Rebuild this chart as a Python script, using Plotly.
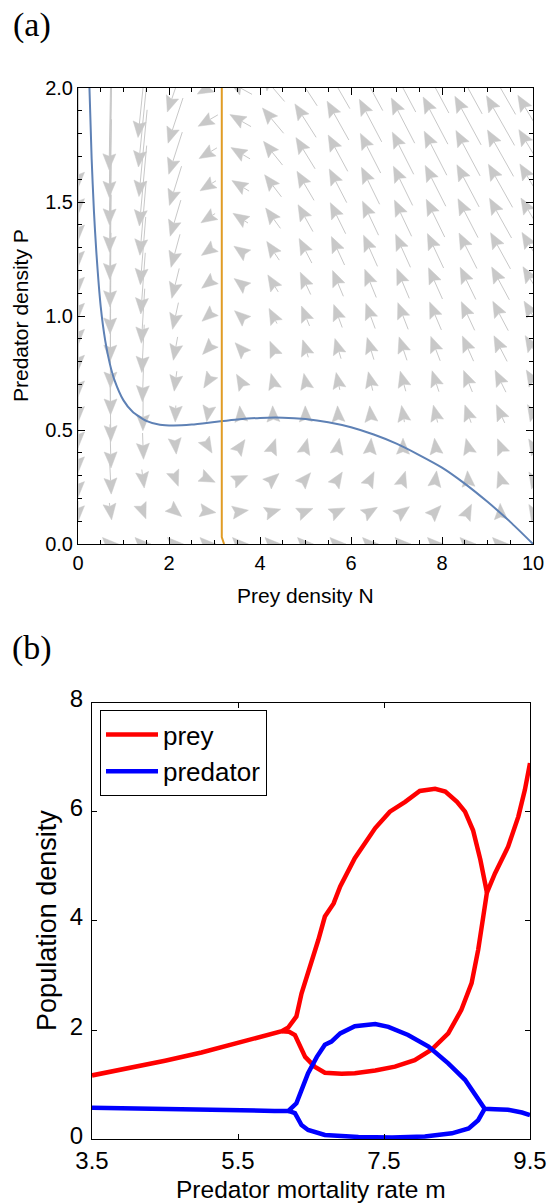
import math
import plotly.graph_objects as go

# ---------------- data: panel (a) ----------------
N_grid = [0.0, 0.714, 1.429, 2.143, 2.857, 3.571, 4.286, 5.0, 5.714, 6.429, 7.143, 7.857, 8.571, 9.286, 10.0]
P_grid = [0.0, 0.143, 0.286, 0.429, 0.571, 0.714, 0.857, 1.0, 1.143, 1.286, 1.429, 1.571, 1.714, 1.857, 2.0]

# dN/dt at each grid point (rows: P_grid, columns: N_grid)
dN_field = [
    [0, 0.13, 0.24, 0.34, 0.41, 0.46, 0.49, 0.50, 0.49, 0.46, 0.41, 0.34, 0.24, 0.13, 0],
    [0, 0.11, 0.18, 0.24, 0.30, 0.34, 0.36, 0.37, 0.35, 0.32, 0.27, 0.20, 0.11, -0.01, -0.14],
    [0, 0.08, 0.12, 0.15, 0.19, 0.22, 0.24, 0.24, 0.22, 0.19, 0.13, 0.06, -0.03, -0.15, -0.28],
    [0, 0.06, 0.05, 0.06, 0.08, 0.10, 0.11, 0.11, 0.09, 0.05, 0.00, -0.08, -0.17, -0.28, -0.42],
    [0, 0.04, -0.01, -0.03, -0.03, -0.02, -0.02, -0.02, -0.04, -0.08, -0.14, -0.21, -0.31, -0.42, -0.56],
    [0, 0.01, -0.08, -0.13, -0.14, -0.14, -0.14, -0.15, -0.18, -0.22, -0.28, -0.35, -0.45, -0.56, -0.70],
    [0, -0.01, -0.14, -0.22, -0.25, -0.26, -0.27, -0.28, -0.31, -0.35, -0.41, -0.49, -0.59, -0.70, -0.84],
    [0, -0.04, -0.20, -0.31, -0.36, -0.38, -0.39, -0.41, -0.44, -0.49, -0.55, -0.63, -0.72, -0.84, -0.98],
    [0, -0.06, -0.27, -0.40, -0.47, -0.50, -0.52, -0.54, -0.57, -0.62, -0.68, -0.76, -0.86, -0.98, -1.12],
    [0, -0.08, -0.33, -0.49, -0.58, -0.62, -0.64, -0.67, -0.71, -0.76, -0.82, -0.90, -1.00, -1.12, -1.25],
    [0, -0.11, -0.39, -0.59, -0.69, -0.74, -0.77, -0.80, -0.84, -0.89, -0.96, -1.04, -1.14, -1.26, -1.39],
    [0, -0.13, -0.46, -0.68, -0.79, -0.86, -0.89, -0.93, -0.97, -1.02, -1.09, -1.18, -1.28, -1.40, -1.53],
    [0, -0.16, -0.52, -0.77, -0.90, -0.97, -1.02, -1.06, -1.10, -1.16, -1.23, -1.31, -1.41, -1.53, -1.67],
    [0, -0.18, -0.59, -0.86, -1.01, -1.09, -1.15, -1.19, -1.24, -1.29, -1.36, -1.45, -1.55, -1.67, -1.81],
    [0, -0.20, -0.65, -0.95, -1.12, -1.21, -1.27, -1.32, -1.37, -1.43, -1.50, -1.59, -1.69, -1.81, -1.95],
]
# dP/dt at each grid point
dP_field = [
    [0] * 15,
    [-0.208, -0.164, -0.092, -0.040, -0.009, 0.010, 0.021, 0.029, 0.034, 0.038, 0.040, 0.042, 0.044, 0.045, 0.046],
    [-0.416, -0.329, -0.183, -0.080, -0.018, 0.019, 0.042, 0.057, 0.068, 0.075, 0.081, 0.085, 0.088, 0.090, 0.092],
    [-0.624, -0.493, -0.275, -0.120, -0.027, 0.029, 0.063, 0.086, 0.102, 0.113, 0.121, 0.127, 0.132, 0.136, 0.139],
    [-0.832, -0.657, -0.367, -0.160, -0.036, 0.038, 0.084, 0.115, 0.136, 0.150, 0.161, 0.170, 0.176, 0.181, 0.185],
    [-1.040, -0.821, -0.458, -0.200, -0.045, 0.048, 0.106, 0.144, 0.170, 0.188, 0.202, 0.212, 0.220, 0.226, 0.231],
    [-1.248, -0.986, -0.550, -0.240, -0.054, 0.057, 0.127, 0.172, 0.203, 0.226, 0.242, 0.254, 0.264, 0.271, 0.277],
    [-1.456, -1.150, -0.642, -0.280, -0.063, 0.067, 0.148, 0.201, 0.237, 0.263, 0.283, 0.297, 0.308, 0.317, 0.324],
    [-1.664, -1.314, -0.733, -0.320, -0.072, 0.076, 0.169, 0.230, 0.271, 0.301, 0.323, 0.339, 0.352, 0.362, 0.370],
    [-1.872, -1.479, -0.825, -0.360, -0.081, 0.086, 0.190, 0.258, 0.305, 0.339, 0.363, 0.381, 0.396, 0.407, 0.416],
    [-2.080, -1.643, -0.916, -0.400, -0.090, 0.095, 0.211, 0.287, 0.339, 0.376, 0.404, 0.424, 0.440, 0.452, 0.462],
    [-2.288, -1.807, -1.008, -0.440, -0.099, 0.105, 0.232, 0.316, 0.373, 0.414, 0.444, 0.466, 0.484, 0.498, 0.509],
    [-2.496, -1.971, -1.100, -0.479, -0.108, 0.114, 0.253, 0.344, 0.407, 0.451, 0.484, 0.509, 0.528, 0.543, 0.555],
    [-2.704, -2.136, -1.191, -0.519, -0.117, 0.124, 0.274, 0.373, 0.441, 0.489, 0.525, 0.551, 0.572, 0.588, 0.601],
    [-2.912, -2.300, -1.283, -0.559, -0.126, 0.133, 0.295, 0.402, 0.475, 0.527, 0.565, 0.593, 0.616, 0.633, 0.647],
]

# prey nullcline (blue curve)
null_N = [0.25, 0.30, 0.35, 0.40, 0.50, 0.60, 0.70, 0.80, 1.0, 1.2, 1.5, 1.8, 2.1, 2.5, 3.0, 3.5,
          4.0, 4.5, 5.0, 5.5, 6.0, 6.5, 7.0, 7.5, 8.0, 8.5, 9.0, 9.5, 10.0]
null_P = [2.01, 1.69, 1.46, 1.29, 1.04, 0.89, 0.79, 0.72, 0.63, 0.58, 0.54, 0.523, 0.52, 0.524, 0.535, 0.546,
          0.553, 0.554, 0.548, 0.534, 0.512, 0.48, 0.44, 0.39, 0.335, 0.265, 0.185, 0.097, 0.0]
# predator nullcline (orange line)
pred_null_N = [3.16, 3.16, 3.21]
pred_null_P = [2.0, 0.03, 0.0]

# ---------------- data: panel (b) ----------------
prey_m = [3.5, 4.0, 4.5, 5.0, 5.5, 5.8, 6.0, 6.1, 6.19, 6.30, 6.37, 6.46, 6.60, 6.69, 6.81, 6.90, 7.10,
          7.38, 7.58, 7.79, 7.99, 8.20, 8.34, 8.50, 8.61, 8.72, 8.82, 8.91, 9.02, 9.20, 9.34, 9.43, 9.50]
prey_v = [1.17, 1.30, 1.44, 1.59, 1.76, 1.87, 1.94, 1.98, 2.05, 2.25, 2.67, 3.04, 3.65, 4.08, 4.32, 4.63, 5.15,
          5.70, 6.00, 6.18, 6.38, 6.42, 6.37, 6.18, 6.00, 5.66, 5.12, 4.52, 4.87, 5.36, 5.91, 6.40, 6.89]
prey_low_m = [6.10, 6.20, 6.28, 6.35, 6.42, 6.55, 6.69, 6.92, 7.10, 7.38, 7.65, 7.92, 8.15, 8.38, 8.56,
              8.70, 8.79, 8.86, 8.91]
prey_low_v = [1.98, 1.97, 1.91, 1.70, 1.51, 1.33, 1.22, 1.20, 1.21, 1.26, 1.33, 1.45, 1.64, 1.94, 2.37,
              2.86, 3.47, 4.08, 4.52]
pred_m = [3.5, 4.5, 5.5, 6.0, 6.19, 6.30, 6.37, 6.46, 6.58, 6.69, 6.78, 6.90, 7.10, 7.38, 7.56, 7.83,
          8.11, 8.38, 8.61, 8.75, 8.88, 9.02, 9.20, 9.39, 9.50]
pred_v = [0.58, 0.55, 0.53, 0.52, 0.52, 0.66, 0.90, 1.21, 1.51, 1.73, 1.79, 1.94, 2.07, 2.11, 2.06, 1.91,
          1.70, 1.39, 1.09, 0.81, 0.56, 0.55, 0.54, 0.49, 0.445]
pred_low_m = [6.19, 6.28, 6.37, 6.46, 6.69, 7.15, 7.61, 8.06, 8.43, 8.66, 8.79, 8.88]
pred_low_v = [0.52, 0.48, 0.26, 0.17, 0.08, 0.04, 0.035, 0.05, 0.11, 0.20, 0.35, 0.56]

a_xticks = [0, 2, 4, 6, 8, 10]
a_yticks = [0, 0.5, 1.0, 1.5, 2.0]
a_yticklabels = ["0.0", "0.5", "1.0", "1.5", "2.0"]
b_xticks = [3.5, 5.5, 7.5, 9.5]
b_xticklabels = ["3.5", "5.5", "7.5", "9.5"]
b_yticks = [0, 2, 4, 6, 8]

# ---------------- layout geometry ----------------
W, H = 550, 1203
AX0, AX1, AY0, AY1 = 78, 533, 88, 544          # panel (a) plot box (px)
BX0, BX1, BY0, BY1 = 92, 530, 702.5, 1139.3    # panel (b) plot box (px)
a_xr, a_yr = [0, 10], [0, 2]
b_xr, b_yr = [3.5, 9.5], [0, 8]

GRAY = "#c8c8c8"
SANS = "Liberation Sans, Arial, sans-serif"
SERIF = "Liberation Serif, Times New Roman, serif"

# px per data unit in panel (a), from the axis ranges and box size
kx = (AX1 - AX0) / (a_xr[1] - a_xr[0])
ky = (AY1 - AY0) / (a_yr[1] - a_yr[0])

head_len, head_w, notch = 16.0, 6.5, 2.5
hx, hy, tx, ty = [], [], [], []
for j, p in enumerate(P_grid):
    for i, n in enumerate(N_grid):
        sx = dN_field[j][i] * kx
        sy = dP_field[j][i] * ky
        M = math.hypot(sx, sy)
        if M < 1e-9:
            continue
        ex, ey = sx / M, sy / M
        px_, py_ = -ey, ex
        L = 0.75 * M ** 0.86
        half = max(L, head_len) / 2.0
        tipx, tipy = ex * half, ey * half
        bx, by = tipx - ex * head_len, tipy - ey * head_len
        pts = [(tipx, tipy), (bx + px_ * head_w, by + py_ * head_w),
               (bx + ex * notch, by + ey * notch), (bx - px_ * head_w, by - py_ * head_w), (tipx, tipy)]
        for (ox, oy) in pts:
            hx.append(n + ox / kx)
            hy.append(p + oy / ky)
        hx.append(None); hy.append(None)
        if L > head_len:
            sxp, syp = -ex * half, -ey * half
            tx += [n + sxp / kx, n + (bx + ex * notch) / kx, None]
            ty += [p + syp / ky, p + (by + ey * notch) / ky, None]

fig = go.Figure()
fig.add_trace(go.Scatter(x=tx, y=ty, mode="lines", line=dict(color=GRAY, width=1),
                         hoverinfo="skip", showlegend=False, xaxis="x", yaxis="y"))
fig.add_trace(go.Scatter(x=hx, y=hy, mode="lines", fill="toself", fillcolor=GRAY,
                         line=dict(color=GRAY, width=0.5), hoverinfo="skip", showlegend=False,
                         xaxis="x", yaxis="y"))
fig.add_trace(go.Scatter(x=null_N, y=null_P, mode="lines", line=dict(color="#5e81b5", width=2, shape="spline", smoothing=0.6),
                         showlegend=False, xaxis="x", yaxis="y"))
fig.add_trace(go.Scatter(x=pred_null_N, y=pred_null_P, mode="lines", line=dict(color="#e19c24", width=2),
                         showlegend=False, xaxis="x", yaxis="y"))

# panel (b)
fig.add_trace(go.Scatter(x=prey_m, y=prey_v, mode="lines", name="prey", legendgroup="prey",
                         line=dict(color="#ff0000", width=4.5), xaxis="x2", yaxis="y2"))
fig.add_trace(go.Scatter(x=prey_low_m, y=prey_low_v, mode="lines", name="prey", legendgroup="prey",
                         showlegend=False, line=dict(color="#ff0000", width=4.5), xaxis="x2", yaxis="y2"))
fig.add_trace(go.Scatter(x=pred_m, y=pred_v, mode="lines", name="predator", legendgroup="pred",
                         line=dict(color="#0000ff", width=4.5), xaxis="x2", yaxis="y2"))
fig.add_trace(go.Scatter(x=pred_low_m, y=pred_low_v, mode="lines", name="predator", legendgroup="pred",
                         showlegend=False, line=dict(color="#0000ff", width=4.5), xaxis="x2", yaxis="y2"))

common_a = dict(showgrid=False, zeroline=False, showline=True, linecolor="black", linewidth=1,
                ticks="inside", ticklen=7, tickwidth=1, tickcolor="black", mirror="allticks",
                automargin=False, tickfont=dict(family=SANS, size=20, color="black"))
common_b = dict(showgrid=False, zeroline=False, showline=True, linecolor="black", linewidth=1.2,
                ticks="inside", ticklen=5, tickwidth=1, tickcolor="black", mirror="allticks",
                automargin=False, tickfont=dict(family=SANS, size=24, color="black"))


def label(text, x, y, size, family=SANS, angle=0):
    return dict(text=text, x=x / W, y=1 - y / H, xref="paper", yref="paper", showarrow=False,
                xanchor="center", yanchor="middle", textangle=angle,
                font=dict(family=family, size=size, color="black"))


fig.update_layout(
    width=W, height=H, autosize=False,
    margin=dict(l=0, r=0, t=0, b=0, pad=0),
    paper_bgcolor="white", plot_bgcolor="white",
    xaxis=dict(domain=[AX0 / W, AX1 / W], range=a_xr, anchor="y", tickvals=a_xticks,
               minor=dict(ticks="inside", dtick=0.5, ticklen=4, tickcolor="black"),
               ticklabelstandoff=1, **common_a),
    yaxis=dict(domain=[1 - AY1 / H, 1 - AY0 / H], range=a_yr, anchor="x", tickvals=a_yticks,
               ticktext=a_yticklabels,
               minor=dict(ticks="inside", dtick=0.1, ticklen=4, tickcolor="black"),
               ticklabelstandoff=0, **common_a),
    xaxis2=dict(domain=[BX0 / W, BX1 / W], range=b_xr, anchor="y2", tickvals=b_xticks,
                ticktext=b_xticklabels, ticklabelstandoff=0, **common_b),
    yaxis2=dict(domain=[1 - BY1 / H, 1 - BY0 / H], range=b_yr, anchor="x2", tickvals=b_yticks,
                ticklabelstandoff=3, ticklabelshift=-4, **common_b),
    legend=dict(x=100 / W, y=1 - 710 / H, xanchor="left", yanchor="top",
                bordercolor="black", borderwidth=1, bgcolor="white",
                font=dict(family=SANS, size=26, color="black"), itemwidth=52,
                tracegroupgap=0),
    annotations=[
        label("(a)", 32, 25, 34, SERIF),
        label("(b)", 32, 648, 34, SERIF),
        label("Prey density N", (AX0 + AX1) / 2, 595, 21),
        label("Predator density P", 21, (AY0 + AY1) / 2, 21, angle=-90),
        label("Predator mortality rate m", (BX0 + BX1) / 2, 1189, 24.5),
        label("Population density", 47, (BY0 + BY1) / 2, 27, angle=-90),
    ],
)

fig.write_html("out.html", config={"displayModeBar": False},
               post_script="document.body.style.margin='0';document.body.style.padding='0';")
